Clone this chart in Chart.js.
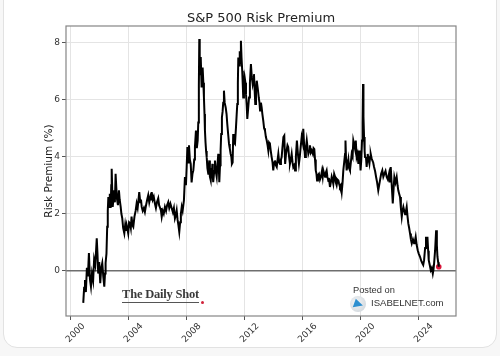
<!DOCTYPE html>
<html>
<head>
<meta charset="utf-8">
<script src="https://cdn.jsdelivr.net/npm/chart.js@4.4.1/dist/chart.umd.min.js"></script>
<style>
  html, body { margin: 0; padding: 0; background: #f7f7f7; }
  #wrap { position: relative; width: 500px; height: 356px; overflow: hidden; }
  #card { position: absolute; left: 3px; top: -20px; width: 492px; height: 366px; background: #fff; border: 1px solid #e2e2e2; border-radius: 14px; }
  canvas { position: absolute; left: 0; top: 0; }
  .wm { position: absolute; white-space: nowrap; }
  #dailyshot { left: 122px; top: 288px; font-family: 'Liberation Serif', 'DejaVu Serif', serif; font-weight: bold; font-size: 12.5px; color: #3a3a3a; letter-spacing: -0.2px; border-bottom: 1px solid #555; line-height: 13px; padding-bottom: 1px; }
  #dsdot { left: 201px; top: 301px; width: 3px; height: 3px; border-radius: 50%; background: #d0223a; }
  #posted { left: 353px; top: 285px; font-family: 'Liberation Sans', Arial, sans-serif; font-size: 9.3px; color: #333; }
  #isabel { left: 371px; top: 297px; font-family: 'Liberation Sans', Arial, sans-serif; font-size: 9.6px; color: #333; }
  #logo { left: 350px; top: 296px; width: 16px; height: 16px; border-radius: 50%; background: radial-gradient(circle at 40% 40%, #f4f6f8, #c9d0d6); }
  #bird { left: 354px; top: 300px; width: 0; height: 0; border-left: 9px solid #2d8fd0; border-top: 4px solid transparent; border-bottom: 5px solid transparent; transform: rotate(20deg); }
</style>
</head>
<body>
<div id="wrap">
  <div id="card"></div>
  <canvas id="c" width="500" height="356"></canvas>
  <div class="wm" id="dailyshot">The Daily Shot</div>
  <div class="wm" id="dsdot"></div>
  <div class="wm" id="posted">Posted on</div>
  <div class="wm" id="logo"></div>
  <div class="wm" id="bird"></div>
  <div class="wm" id="isabel">ISABELNET.com</div>
</div>
<script>
const chartTitle = "S&P 500 Risk Premium";
const yAxisLabel = "Risk Premium (%)";
const xTickYears = [2000, 2004, 2008, 2012, 2016, 2020, 2024];
const yTickValues = [0, 2, 4, 6, 8];

const years = [
2000.87,2000.93,2000.99,2001.05,2001.12,2001.19,2001.26,2001.33,2001.40,2001.47,2001.55,2001.62,2001.70,2001.80,2001.85,2001.90,2001.97,
2002.04,2002.11,2002.18,2002.25,2002.32,2002.37,2002.41,2002.47,2002.52,2002.56,2002.60,2002.65,2002.70,2002.76,2002.80,2002.83,2002.87,2002.90,2002.95,
2003.00,2003.05,2003.10,2003.15,2003.20,2003.26,2003.33,2003.38,2003.45,2003.50,2003.56,2003.62,2003.70,2003.76,2003.81,2003.86,2003.92,2003.97,
2004.03,2004.09,2004.15,2004.20,2004.26,2004.32,2004.40,2004.48,2004.55,2004.62,2004.68,2004.73,2004.80,2004.85,2004.90,2004.97,
2005.05,2005.12,2005.20,2005.28,2005.35,2005.42,2005.50,2005.55,2005.59,2005.66,2005.73,2005.81,2005.88,2005.95,
2006.04,2006.10,2006.17,2006.23,2006.28,2006.35,2006.42,2006.50,2006.58,2006.65,2006.73,2006.80,2006.88,2006.97,
2007.05,2007.12,2007.19,2007.25,2007.31,2007.37,2007.43,2007.49,2007.55,2007.60,2007.66,2007.72,2007.81,2007.88,2007.95,
2008.00,2008.05,2008.10,2008.16,2008.22,2008.28,2008.34,2008.40,2008.46,2008.52,2008.57,2008.64,2008.70,2008.76,2008.80,2008.84,2008.87,2008.90,2008.92,2008.97,
2009.03,2009.07,2009.10,2009.15,2009.19,2009.23,2009.26,2009.30,2009.34,2009.38,2009.43,2009.49,2009.53,2009.56,2009.60,2009.66,2009.70,2009.74,2009.77,2009.80,2009.83,2009.90,2009.95,
2010.00,2010.07,2010.12,2010.18,2010.22,2010.25,2010.30,2010.34,2010.38,2010.43,2010.48,2010.52,2010.57,2010.62,2010.69,2010.75,2010.80,2010.86,2010.92,2010.97,
2011.03,2011.08,2011.12,2011.17,2011.21,2011.26,2011.33,2011.40,2011.45,2011.49,2011.53,2011.56,2011.61,2011.66,2011.70,2011.74,2011.78,2011.83,2011.87,2011.90,2011.95,
2012.00,2012.05,2012.09,2012.14,2012.18,2012.24,2012.30,2012.36,2012.43,2012.49,2012.55,2012.60,2012.64,2012.69,2012.73,2012.78,2012.83,2012.90,2012.97,
2013.02,2013.06,2013.12,2013.17,2013.22,2013.28,2013.34,2013.40,2013.46,2013.52,2013.58,2013.63,2013.68,2013.74,2013.80,2013.86,2013.92,2013.97,
2014.03,2014.09,2014.15,2014.21,2014.27,2014.32,2014.38,2014.44,2014.50,2014.55,2014.60,2014.67,2014.73,2014.79,2014.85,2014.90,2014.95,
2015.00,2015.06,2015.12,2015.18,2015.24,2015.30,2015.35,2015.41,2015.47,2015.53,2015.60,2015.67,2015.74,2015.80,2015.86,2015.93,
2016.00,2016.04,2016.10,2016.16,2016.22,2016.28,2016.34,2016.39,2016.45,2016.50,2016.56,2016.62,2016.70,2016.75,2016.80,2016.85,2016.90,2016.95,2016.99,
2017.05,2017.12,2017.19,2017.26,2017.33,2017.38,2017.42,2017.48,2017.54,2017.60,2017.65,2017.70,2017.76,2017.82,2017.88,2017.94,
2018.00,2018.05,2018.11,2018.17,2018.23,2018.28,2018.34,2018.40,2018.46,2018.51,2018.57,2018.63,2018.69,2018.75,2018.80,2018.86,2018.92,2018.95,2018.99,
2019.03,2019.09,2019.15,2019.20,2019.26,2019.32,2019.38,2019.44,2019.49,2019.54,2019.60,2019.66,2019.72,2019.78,2019.84,2019.90,2019.95,2019.99,
2020.04,2020.09,2020.13,2020.16,2020.19,2020.23,2020.27,2020.30,2020.36,2020.41,2020.45,2020.48,2020.54,2020.60,2020.65,2020.69,2020.75,2020.80,2020.86,2020.92,2020.99,
2021.06,2021.13,2021.21,2021.27,2021.33,2021.41,2021.49,2021.56,2021.63,2021.71,2021.79,2021.87,2021.95,
2022.01,2022.07,2022.14,2022.21,2022.27,2022.32,2022.40,2022.48,2022.54,2022.59,2022.65,2022.71,2022.77,2022.83,2022.88,2022.94,
2023.00,2023.06,2023.12,2023.17,2023.23,2023.28,2023.34,2023.40,2023.46,2023.52,2023.60,2023.68,2023.74,2023.79,2023.86,2023.93,
2024.00,2024.09,2024.17,2024.25,2024.31,2024.37,2024.44,2024.50,2024.55,2024.60,2024.65,2024.69,2024.76,2024.83,2024.90,2024.97,
2025.02,2025.06,2025.13,2025.20,2025.25,2025.29,2025.34,2025.38
];

const premium = [
-1.13,-0.60,-0.33,-0.75,0.10,-0.20,0.62,-0.30,-0.56,-0.10,-0.35,0.40,0.20,1.14,0.60,-0.10,0.30,
-0.44,0.10,0.27,-0.20,-0.56,-0.10,0.27,0.60,1.54,2.10,2.59,2.24,2.70,2.20,3.00,3.58,2.80,2.24,2.50,
2.82,2.40,3.40,2.90,2.50,2.30,2.82,2.50,2.24,2.00,1.84,1.50,1.31,1.60,1.40,1.60,1.45,1.31,
1.70,1.67,1.50,1.90,1.60,1.54,1.90,2.10,2.36,2.20,2.50,2.76,2.40,2.50,2.24,2.10,
2.20,2.06,2.30,2.50,2.65,2.40,2.60,2.50,2.76,2.50,2.60,2.36,2.20,2.40,
2.54,2.30,2.20,2.10,1.89,2.10,2.00,2.24,2.10,2.30,2.41,2.20,2.35,2.19,
2.05,2.20,1.84,1.95,2.12,1.80,1.60,1.36,1.70,2.00,2.24,2.10,2.47,3.29,3.00,
3.64,4.34,3.80,4.40,3.90,3.75,3.10,3.40,3.52,3.90,4.34,4.92,4.30,4.57,5.20,6.50,8.13,7.20,6.90,7.50,
6.43,7.00,7.13,6.60,6.08,5.50,4.92,4.50,4.20,3.99,3.60,3.40,3.70,3.87,3.30,3.17,3.60,3.40,3.75,3.30,3.11,3.50,3.87,
3.50,3.29,3.70,4.10,3.60,3.11,3.70,4.22,4.80,5.38,5.60,5.90,6.32,5.90,5.73,5.50,5.15,4.80,4.45,4.30,
4.10,4.00,3.75,3.80,4.80,4.50,4.45,5.03,5.50,5.85,6.60,7.48,7.20,7.70,7.30,8.07,7.50,7.02,6.50,6.08,6.50,
6.78,6.60,6.20,5.80,5.33,5.70,6.08,6.60,7.25,6.80,6.55,6.70,6.90,6.30,5.85,6.30,6.67,6.40,6.08,
5.90,5.62,5.90,5.73,5.50,5.27,5.00,4.92,4.70,4.57,4.40,4.22,4.50,4.45,4.20,3.99,3.80,3.52,
3.80,3.87,3.70,3.64,3.90,4.10,3.80,3.75,3.90,3.99,4.30,4.69,4.74,3.75,4.10,4.10,4.40,
4.34,4.00,3.75,3.90,4.10,3.80,3.64,3.70,3.52,4.00,4.57,4.10,3.75,4.00,4.34,4.69,
4.50,4.98,4.40,3.99,4.30,4.57,4.30,4.10,4.20,4.40,4.15,4.22,4.10,4.30,4.27,3.90,3.52,3.40,3.17,
3.35,3.40,3.20,3.30,3.50,3.30,3.52,3.40,3.30,3.45,3.52,3.30,3.17,3.20,2.94,3.10,
3.30,3.20,3.05,3.40,3.30,3.10,3.00,3.20,3.17,3.05,2.94,3.00,2.76,3.10,3.52,3.80,4.10,4.57,3.90,
3.52,3.70,3.90,3.60,3.52,3.80,4.10,4.00,4.57,4.45,4.30,4.57,3.99,4.10,3.75,4.22,3.90,3.52,
3.90,4.57,5.20,6.55,5.40,4.69,4.20,3.99,4.00,3.64,3.90,4.10,3.90,3.75,4.00,4.10,3.95,3.87,3.80,3.64,3.50,
3.29,3.10,2.82,3.00,3.17,3.40,3.52,3.30,3.40,3.50,3.29,3.20,3.40,
3.10,3.64,3.00,2.36,2.90,3.29,3.10,3.29,3.00,2.82,2.70,2.59,2.20,1.89,2.10,2.24,
2.10,1.98,2.10,2.24,1.90,1.66,1.50,1.31,1.10,0.96,1.10,0.96,1.05,1.19,0.90,0.72,
0.60,0.49,0.35,0.26,0.20,0.37,0.80,1.19,1.00,1.19,0.70,0.37,0.20,0.02,0.10,-0.10,
0.05,0.26,0.72,1.42,0.90,0.49,0.30,0.14
];

const seriesPoints = years.map((yr, i) => ({ x: yr, y: premium[i] }));
const lastIdx = premium.length - 1;
const lastPoint = [{ x: years[lastIdx], y: premium[lastIdx] }];

const framePlugin = {
  id: 'frame',
  beforeDatasetsDraw(chart) {
    const { ctx, chartArea: a, scales } = chart;
    const y0 = scales.y.getPixelForValue(0);
    ctx.save();
    ctx.strokeStyle = '#6e6e6e';
    ctx.lineWidth = 1.5;
    ctx.beginPath();
    ctx.moveTo(a.left, y0);
    ctx.lineTo(a.right, y0);
    ctx.stroke();
    ctx.restore();
  },
  afterDraw(chart) {
    const { ctx, chartArea: a } = chart;
    ctx.save();
    ctx.strokeStyle = '#858585';
    ctx.lineWidth = 1.2;
    ctx.strokeRect(a.left, a.top, a.right - a.left, a.bottom - a.top);
    ctx.restore();
  }
};

const FONT = "'DejaVu Sans', 'Liberation Sans', sans-serif";

new Chart(document.getElementById('c'), {
  type: 'line',
  data: {
    datasets: [
      {
        data: seriesPoints,
        borderColor: '#000',
        borderWidth: 2,
        pointRadius: 0,
        tension: 0,
        fill: false,
        yAxisID: 'y'
      },
      {
        data: lastPoint,
        borderColor: '#d8163a',
        backgroundColor: '#d8163a',
        pointRadius: 2.8,
        pointBorderWidth: 0,
        showLine: false,
        yAxisID: 'y'
      }
    ]
  },
  options: {
    responsive: false,
    animation: false,
    devicePixelRatio: 1,
    layout: { padding: { left: 22, right: 0, top: 0, bottom: 0 } },
    plugins: {
      legend: { display: false },
      tooltip: { enabled: false },
      title: {
        display: true,
        text: chartTitle,
        color: '#222',
        font: { family: FONT, size: 13, weight: 'normal', lineHeight: 1.2 },
        padding: { top: 10.4, bottom: 0 }
      }
    },
    scales: {
      x: {
        type: 'linear',
        min: 1999.68,
        max: 2026.57,
        afterBuildTicks: (s) => { s.ticks = xTickYears.map(v => ({ value: v })); },
        afterFit: (s) => { s.height = 40; },
        grid: { color: '#e4e4e4', lineWidth: 1, drawTicks: true, tickLength: 4, tickColor: '#555' },
        border: { display: false },
        ticks: {
          autoSkip: false,
          minRotation: 45,
          maxRotation: 45,
          padding: 1,
          labelOffset: 13,
          color: '#333',
          font: { family: FONT, size: 9 },
          callback: (v) => String(v)
        }
      },
      y: {
        type: 'linear',
        position: 'left',
        min: -1.59,
        max: 8.59,
        afterBuildTicks: (s) => { s.ticks = yTickValues.map(v => ({ value: v })); },
        afterFit: (s) => { s.width = 44; },
        grid: { color: '#e4e4e4', lineWidth: 1, drawTicks: true, tickLength: 4, tickColor: '#555' },
        border: { display: false },
        ticks: {
          padding: 2,
          color: '#333',
          font: { family: FONT, size: 9 },
          callback: (v) => String(v)
        },
        title: {
          display: true,
          text: yAxisLabel,
          color: '#222',
          font: { family: FONT, size: 10.5, lineHeight: 1.2 },
          padding: { top: 20.7, bottom: 0 }
        }
      },
      yRight: {
        type: 'linear',
        position: 'right',
        display: true,
        min: -1.59,
        max: 8.59,
        afterFit: (s) => { s.width = 44; },
        grid: { display: false, drawTicks: false },
        border: { display: false },
        ticks: { display: false }
      }
    }
  },
  plugins: [framePlugin]
});
</script>
</body>
</html>
